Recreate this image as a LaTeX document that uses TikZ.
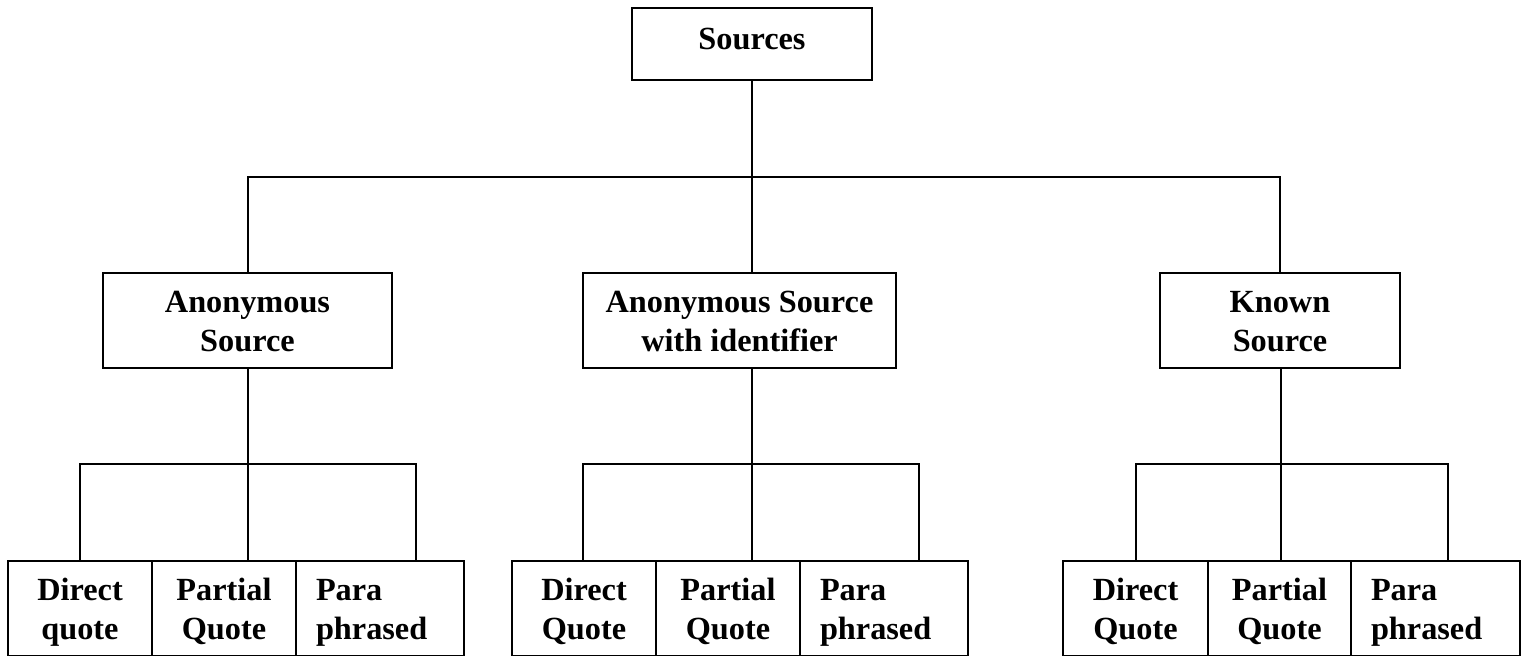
\documentclass[tikz,border=0pt]{standalone}
\usepackage{fontspec}
\setmainfont{Liberation Serif}
\newcommand\cellrows[2]{\rule{0pt}{30pt}#1\\#2\rule[-7.5pt]{0pt}{7.5pt}}
\begin{document}
\begin{tikzpicture}[x=1pt,y=-1pt]
	\tikzstyle{box}=[draw,line width=2.2pt,align=center,inner sep=0pt,font=\bfseries\fontsize{32.3}{38.5}\selectfont]
	\tikzstyle{cell}=[box,minimum height=95pt]
	\tikzstyle{para}=[cell,align=left,inner xsep=20pt]
	\tikzstyle{wire}=[line width=2pt]
	
	\useasboundingbox (0,0) rectangle (1527,656);
	
	% top level
	\node [box,minimum width=240pt,minimum height=72pt,text depth=10pt] (src) at (752,44) {Sources};
	
	% second level
	\node [cell,minimum width=289pt] (anon)  at (247.5,320.5) {\cellrows{Anonymous}{Source}};
	\node [cell,minimum width=313pt] (ident) at (739.5,320.5) {\cellrows{Anonymous Source}{with identifier}};
	\node [cell,minimum width=240pt] (known) at (1280,320.5)  {\cellrows{Known}{Source}};
	
	% third level
	\node [cell,minimum width=144pt] (a1) at (80,608.5)  {\cellrows{Direct}{quote}};
	\node [cell,minimum width=144pt] (a2) at (224,608.5) {\cellrows{Partial}{Quote}};
	\node [para,text width=128pt]    (a3) at (380,608.5) {\cellrows{Para}{phrased}};
	
	\node [cell,minimum width=144pt] (i1) at (584,608.5) {\cellrows{Direct}{Quote}};
	\node [cell,minimum width=144pt] (i2) at (728,608.5) {\cellrows{Partial}{Quote}};
	\node [para,text width=128pt]    (i3) at (884,608.5) {\cellrows{Para}{phrased}};
	
	\node [cell,minimum width=145pt] (k1) at (1135.5,608.5) {\cellrows{Direct}{Quote}};
	\node [cell,minimum width=143pt] (k2) at (1279.5,608.5) {\cellrows{Partial}{Quote}};
	\node [para,text width=129pt]    (k3) at (1435.5,608.5) {\cellrows{Para}{phrased}};
	
	% junctions
	\coordinate (top) at (752,177);
	\coordinate (aj) at (248,464);
	\coordinate (al) at (80,464);
	\coordinate (ar) at (416,464);
	\coordinate (ij) at (752,464);
	\coordinate (il) at (583,464);
	\coordinate (ir) at (919,464);
	\coordinate (kj) at (1281,464);
	\coordinate (kl) at (1136,464);
	\coordinate (kr) at (1448,464);
	
	\draw[wire] (src) -- (top);
	\draw[wire] (anon.north) |- (top) -| (known.north);
	\draw[wire] (top) -- (top |- ident.north);
	
	\draw[wire] (aj |- anon.south) -- (aj) -- (aj |- a2.north);
	\draw[wire] (al |- a1.north) -- (al) -- (ar) -- (ar |- a3.north);
	
	\draw[wire] (ij |- ident.south) -- (ij) -- (ij |- i2.north);
	\draw[wire] (il |- i1.north) -- (il) -- (ir) -- (ir |- i3.north);
	
	\draw[wire] (kj |- known.south) -- (kj) -- (kj |- k2.north);
	\draw[wire] (kl |- k1.north) -- (kl) -- (kr) -- (kr |- k3.north);
\end{tikzpicture}
\end{document}
